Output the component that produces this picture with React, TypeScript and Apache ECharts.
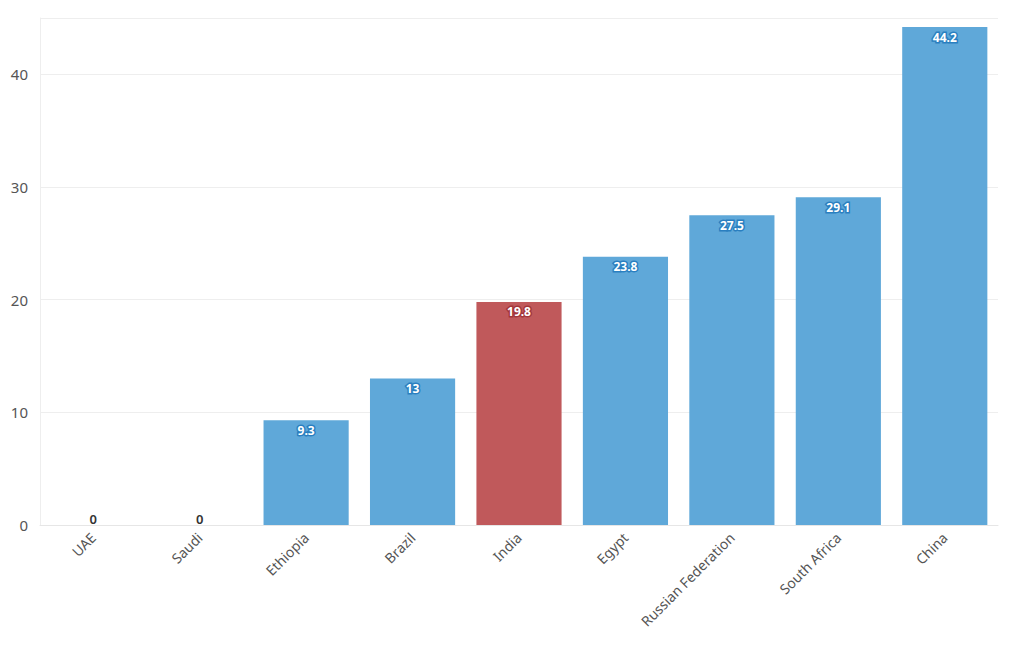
import React, { useEffect, useRef } from "react";
import * as echarts from "echarts";

const categories = ["UAE", "Saudi", "Ethiopia", "Brazil", "India", "Egypt", "Russian Federation", "South Africa", "China"];
const values = [0, 0, 9.3, 13, 19.8, 23.8, 27.5, 29.1, 44.2];
const highlight = "India";
const yTicks = [0, 10, 20, 30, 40];

const BLUE = "#5fa8d9";
const RED = "#c0595b";

export default function App() {
  const ref = useRef<HTMLDivElement>(null);
  useEffect(() => {
    if (!ref.current) return;
    const chart = echarts.init(ref.current, undefined, { renderer: "svg" });
    const data = values.map((v, i) => {
      const isHi = categories[i] === highlight;
      const color = isHi ? RED : BLUE;
      if (v === 0) {
        return {
          value: v,
          itemStyle: { color },
          label: {
            show: true,
            position: "top",
            color: "#333",
            fontWeight: 600,
            fontSize: 13,
            textBorderWidth: 0,
            distance: 0,
          },
        };
      }
      return {
        value: v,
        itemStyle: { color },
        label: {
          show: true,
          position: "insideTop",
          distance: 4,
          color: "#fff",
          fontWeight: "bold",
          fontSize: 12,
          textBorderColor: isHi ? "#a3363a" : "#2a7fc0",
          textBorderWidth: 3,
        },
      };
    });
    chart.setOption({
      animation: false,
      textStyle: { fontFamily: "Noto Sans" },
      grid: { left: 40, right: 22, top: 18, bottom: 125, containLabel: false },
      xAxis: {
        type: "category",
        data: categories,
        axisLine: { lineStyle: { color: "#e6e6e6" } },
        axisTick: { alignWithLabel: true, lineStyle: { color: "#e6e6e6" }, length: 5 },
        axisLabel: { rotate: 45, color: "#555", fontSize: 14, margin: 10, interval: 0 },
      },
      yAxis: {
        type: "value",
        min: 0,
        max: 45,
        interval: 10,
        axisLine: { show: true, lineStyle: { color: "#eeeeee" } },
        axisTick: { show: false },
        splitLine: { lineStyle: { color: "#eeeeee" } },
        axisLabel: {
          color: "#555",
          fontSize: 15,
          margin: 12,
          formatter: (v: number) => (yTicks.includes(v) ? String(v) : ""),
        },
      },
      series: [
        {
          type: "bar",
          data,
          barCategoryGap: "20%",
        },
      ],
    });
    return () => chart.dispose();
  }, []);
  return (
    <div
      ref={ref}
      style={{ position: "fixed", left: 0, top: 0, width: 1020, height: 650, background: "#fff" }}
    />
  );
}
